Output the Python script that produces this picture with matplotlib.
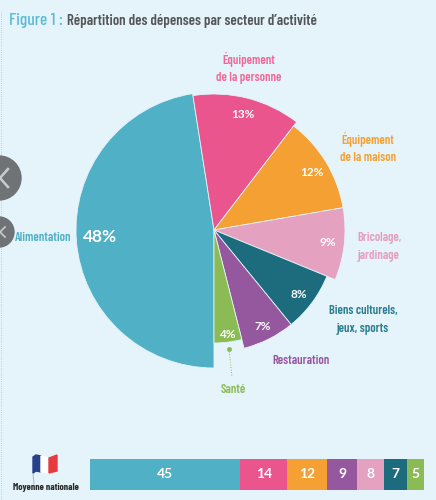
import matplotlib
matplotlib.use("Agg")
import matplotlib.pyplot as plt
from matplotlib.patches import Wedge, Circle, Polygon

# pie values, clockwise from the bottom
secteurs = ["Alimentation", "Équipement\nde la personne", "Équipement\nde la maison",
            "Bricolage,\njardinage", "Biens culturels,\njeux, sports", "Restauration", "Santé"]
parts = [48, 13, 12, 9, 8, 7, 4]
rayons = [138, 136, 131, 131, 122, 122, 113]
couleurs = ["#4FB0C6", "#E9558C", "#F5A033", "#E5A1C0", "#1D6C7D", "#95589F", "#8BBB55"]
couleurs_txt = ["#4FB0C6", "#EE6A9B", "#F5A033", "#E59DBE", "#2A7C8E", "#95589F", "#8BBB55"]
etiquettes_xy = [(43, 238), (249, 68), (368, 148), (379, 247), (363, 320), (301, 361), (233, 390)]
pct_xy = [(100, 237), (243, 114), (312, 173), (328, 243), (299, 294), (263, 327), (227, 334)]

# national average bar
moyenne = [45, 14, 12, 9, 8, 7, 5]
couleurs_bar = ["#4FB0C6", "#E9558C", "#F5A033", "#95589F", "#E5A1C0", "#1D6C7D", "#8BBB55"]

FOND = "#E4F4FA"
ETROITE = ["Barlow Condensed", "Roboto"]

fig = plt.figure(figsize=(4.36, 5.0), dpi=100, facecolor=FOND)
ax = fig.add_axes([0, 0, 1, 1])
ax.set_xlim(0, 436)
ax.set_ylim(500, 0)
ax.axis("off")

# title
ax.text(9, 21, "Figure 1 :", color="#5BBBD3", fontsize=12.5, fontweight="medium", va="center", family=ETROITE)
ax.text(67, 21, "Répartition des dépenses par secteur d’activité", color="#55565A",
        fontsize=10.7, fontweight="semibold", va="center", family=ETROITE)

# dotted edge and grey circles on the left
ax.plot([0.5, 0.5], [12, 500], color="#B5BEC2", lw=0.6, ls=":", zorder=1)
ax.add_patch(Circle((-1, 178), 22, color="#6F7376", zorder=1))
ax.add_patch(Circle((-1, 232), 15, color="#6F7376", zorder=1))
ax.plot([8, 0, 8], [169, 178, 187], color="#C9CBCC", lw=1.8, zorder=2)
ax.plot([5, 0, 5], [227, 232, 237], color="#C9CBCC", lw=1.2, zorder=2)

# pie
cx, cy = 214, 230
debut = 270.0
total = sum(parts)
for val, r, c, (px, py) in zip(parts, rayons, couleurs, pct_xy):
    ang = val / total * 360
    # y axis is inverted, so wedges are given in screen angles
    th1 = 360 - debut
    ax.add_patch(Wedge((cx, cy), r, th1, th1 + ang, facecolor=c, edgecolor=FOND, lw=0.6, zorder=3))
    ax.text(px, py, f"{val}%", color="white", fontsize=12.5 if val >= 40 else 8.5,
            fontweight="bold", family="Lato", ha="center", va="center", zorder=4)
    debut -= ang

for nom, (x, y), c in zip(secteurs, etiquettes_xy, couleurs_txt):
    ax.text(x, y, nom, color=c, fontsize=9, family=ETROITE, fontweight="semibold",
            ha="center", va="center", linespacing=1.6, zorder=4)

# leader line to the smallest slice
ax.plot([229, 232], [349, 377], color="#8BBB55", lw=0.7, ls=":", zorder=4)
ax.plot([229], [349], "o", color="#8BBB55", ms=2.5, zorder=4)

# stacked bar
x0, x1 = 90, 424
ech = (x1 - x0) / sum(moyenne)
x = x0
for val, c in zip(moyenne, couleurs_bar):
    ax.barh(474.5, val * ech, left=x, height=31, color=c, zorder=3)
    ax.text(x + val * ech / 2, 474.5, str(val), color="white", fontsize=10, fontweight="bold",
            family="Lato", ha="center", va="center", zorder=4)
    x += val * ech

# flag
ax.add_patch(Polygon([(33, 457), (36, 455), (41, 456), (41, 472), (36, 471), (33, 473)], color="#27408B", zorder=3))
ax.add_patch(Polygon([(41, 456), (49, 458), (49, 473), (41, 472)], color="white", zorder=3))
ax.add_patch(Polygon([(49, 458), (57, 455), (57, 471), (49, 473)], color="#E63B3F", zorder=3))
ax.plot([33, 34], [473, 484], color="#B0B5B8", lw=0.7, zorder=2)
ax.text(45.5, 488, "Moyenne nationale", color="#2B2B2B", fontsize=7, fontweight="bold",
        family=ETROITE, ha="center", va="center")

fig.savefig("out.png", dpi=100, facecolor=FOND)
